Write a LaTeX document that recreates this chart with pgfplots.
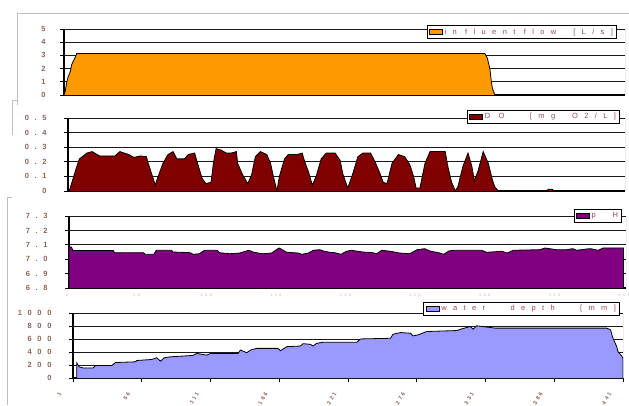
\documentclass[border=0pt]{standalone}
\usepackage{fontspec}
\setmainfont{Liberation Sans}
\newfontfamily\spfont[LetterSpace=75]{Liberation Sans}
\newfontfamily\lgfont[LetterSpace=85]{Liberation Sans}
\newfontfamily\rtfont[LetterSpace=40]{Liberation Sans}
\usepackage{pgfplots}
\pgfplotsset{compat=1.18}
\definecolor{flowc}{RGB}{255,153,0}
\definecolor{doc}{RGB}{128,0,0}
\definecolor{phc}{RGB}{128,0,128}
\definecolor{wdc}{RGB}{153,153,255}
\definecolor{tickc}{RGB}{140,100,90}
\definecolor{legc}{RGB}{160,70,85}
\definecolor{xlc}{RGB}{200,165,170}
\pgfplotsset{
  panel/.style={
    scale only axis,
    xmin=1, xmax=441,
    axis x line*=bottom, axis y line*=left,
    axis line style={-, black, line width=1.1pt},
    ymajorgrids, grid style={black!90, line width=0.8pt},
    tick style={black, line width=0.9pt},
    major tick length=4pt, tick align=outside,
    xtick=\empty,
    yticklabel style={font=\spfont\bfseries\fontsize{7.5}{8}\selectfont, text=tickc, xshift=-14pt},
    legend style={draw=black, line width=1.1pt, fill=white, font=\lgfont\fontsize{7.5}{8}\selectfont,
      text=legc, inner xsep=2pt, inner ysep=1.5pt, nodes={inner sep=1.5pt}, legend cell align=left},
    legend image code/.code={\draw[#1, line width=0.9pt] (0pt,-2.5pt) rectangle (13pt,2.5pt);},
  },
  areast/.style={draw=black, line width=0.8pt, fill=#1, mark=none},
}
\begin{document}
\begin{tikzpicture}[x=1pt,y=1pt]
\useasboundingbox (0,0) rectangle (629,405);
% outer chart frames
\draw[black!25, line width=0.6pt] (17,300) -- (17,392) -- (629,392);
\draw[black!25, line width=0.6pt] (12,270) -- (12,305) -- (17,305);
\draw[black!25, line width=0.6pt] (7,0) -- (7,208) -- (12,208);

% Panel 1: influent flow
\begin{axis}[panel, at={(64pt,310pt)}, anchor=south west, width=561pt, height=66pt,
  ymin=0, ymax=5, ytick={0,1,2,3,4,5}, yticklabels={0,1,2,3,4,5},
  yticklabel style={xshift=3pt},
  legend style={at={(0.9857,1.06)}, anchor=north east}]
\addplot[areast=flowc] coordinates {(1,0) (2,0.3) (3,0.9) (4,1.3) (6,1.8) (7,2.3) (8,2.5) (10,2.9) (11,3.15) (331,3.15) (333,2.8) (335,2.0) (336,1.15) (337,0.5) (339,0)};
\addlegendentry{in fluent flow\ \ [L/s]}
\draw[black!55, line width=0.8pt] (rel axis cs:1,0) -- (rel axis cs:1,1);
\end{axis}

% Panel 2: DO
\begin{axis}[panel, at={(68pt,214pt)}, anchor=south west, width=557pt, height=73pt,
  ymin=0, ymax=0.5, ytick={0,0.1,0.2,0.3,0.4,0.5}, yticklabels={0,0.1,0.2,0.3,0.4,0.5},
  legend style={at={(0.991,1.11)}, anchor=north east}]
\addplot[areast=doc] coordinates {(2,0) (8,0.17) (10,0.22) (16,0.26) (20,0.27) (26,0.24) (38,0.24) (42,0.27) (49,0.25) (53,0.23) (58,0.24) (63,0.235) (64,0.2) (67,0.12) (70,0.04) (71,0.07) (76,0.19) (80,0.25) (84,0.27) (87,0.22) (93,0.22) (96,0.25) (101,0.26) (104,0.17) (107,0.085) (110,0.05) (114,0.06) (116,0.2) (118,0.29) (122,0.28) (126,0.26) (130,0.26) (134,0.27) (135,0.19) (139,0.11) (143,0.05) (146,0.11) (149,0.235) (153,0.27) (158,0.25) (161,0.19) (163,0.11) (166,0.0) (168,0.1) (172,0.22) (175,0.25) (182,0.25) (186,0.26) (188,0.2) (191,0.13) (194,0.04) (197,0.1) (201,0.22) (205,0.26) (212,0.26) (216,0.21) (218,0.12) (222,0.02) (226,0.12) (230,0.235) (234,0.26) (240,0.26) (243,0.21) (247,0.13) (250,0.06) (253,0.05) (257,0.19) (262,0.25) (267,0.235) (271,0.18) (274,0.1) (276,0.02) (279,0.02) (283,0.19) (287,0.27) (299,0.27) (301,0.17) (304,0.06) (307,0.0) (309,0.03) (313,0.17) (317,0.26) (320,0.17) (322,0.07) (325,0.14) (329,0.27) (333,0.19) (336,0.085) (338,0.03) (341,0) (380,0) (380,0.012) (384,0.012) (384,0)};
\addlegendentry{D O\ \ \ [mg\ \ O2/L]}
\draw[black!55, line width=0.8pt] (rel axis cs:1,0) -- (rel axis cs:1,1);
\end{axis}

% Panel 3: pH
\begin{axis}[panel, at={(69pt,117pt)}, anchor=south west, width=557pt, height=72pt,
  ymin=6.8, ymax=7.3, ytick={6.8,6.9,7.0,7.1,7.2,7.3}, yticklabels={6.8,6.9,7.0,7.1,7.2,7.3},
  xtick={1,56,111,166,221,276,331,386,441}, xticklabels={0,20,100,150,200,250,300,350,400},
  xtick style={draw=none},
  xticklabel style={font=\spfont\fontsize{3.5}{4}\selectfont, text=xlc, yshift=1pt, xshift=-2pt},
  legend style={at={(0.993,1.097)}, anchor=north east}]
\addplot[areast=phc] coordinates {(1,6.8) (1,7.085) (3,7.085) (4,7.06) (36,7.06) (37,7.045) (60,7.045) (61,7.034) (68,7.034) (70,7.062) (82,7.062) (83,7.05) (97,7.045) (99,7.034) (104,7.038) (108,7.062) (118,7.062) (120,7.045) (128,7.038) (136,7.043) (143,7.062) (147,7.048) (154,7.038) (161,7.043) (167,7.078) (173,7.048) (182,7.043) (185,7.034) (190,7.043) (194,7.062) (199,7.066) (202,7.057) (207,7.048) (211,7.045) (216,7.034) (220,7.055) (224,7.062) (233,7.05) (241,7.045) (244,7.038) (248,7.062) (255,7.055) (262,7.043) (270,7.038) (276,7.066) (282,7.073) (286,7.057) (293,7.045) (297,7.034) (301,7.057) (305,7.062) (327,7.062) (331,7.048) (343,7.055) (347,7.043) (352,7.062) (373,7.066) (377,7.078) (386,7.066) (394,7.066) (399,7.073) (402,7.062) (410,7.071) (413,7.073) (419,7.062) (423,7.078) (439,7.078) (439,6.8)};
\addlegendentry{p\ \ H\ }
\draw[black!55, line width=0.8pt] (rel axis cs:1,0) -- (rel axis cs:1,1);
\end{axis}

% Panel 4: water depth
\begin{axis}[panel, at={(73pt,27pt)}, anchor=south west, width=550pt, height=65pt,
  ymin=0, ymax=1000, ytick={0,200,400,600,800,1000}, yticklabels={0,200,400,600,800,1000},
  xtick={1,56,111,166,221,276,331,386,441}, xticklabels={1,56,111,166,221,276,331,386,441},
  xticklabel style={font=\rtfont\bfseries\fontsize{5.5}{6}\selectfont, text=tickc, rotate=60, anchor=east, xshift=-12pt, yshift=6pt},
  legend style={at={(0.9945,1.17)}, anchor=north east}]
\addplot[areast=wdc] coordinates {(4,0) (4,233) (6,171) (9,155) (17,155) (19,192) (32,192) (35,238) (51,249) (52,269) (64,285) (68,311) (71,259) (74,311) (79,326) (97,347) (100,378) (108,352) (111,378) (133,378) (135,430) (140,389) (143,430) (148,456) (165,456) (167,420) (172,482) (183,492) (185,528) (191,518) (193,492) (196,534) (201,549) (228,549) (231,601) (255,611) (257,673) (263,699) (271,689) (273,648) (277,663) (284,715) (308,730) (312,756) (319,793) (321,751) (324,803) (339,767) (428,767) (431,741) (433,611) (436,482) (437,404) (440,337) (441,300) (441,0)};
\addlegendentry{water\ \ \ depth\ \ \ [mm]}
\draw[black!55, line width=0.8pt] (rel axis cs:1,0) -- (rel axis cs:1,1);
\end{axis}
\end{tikzpicture}
\end{document}
